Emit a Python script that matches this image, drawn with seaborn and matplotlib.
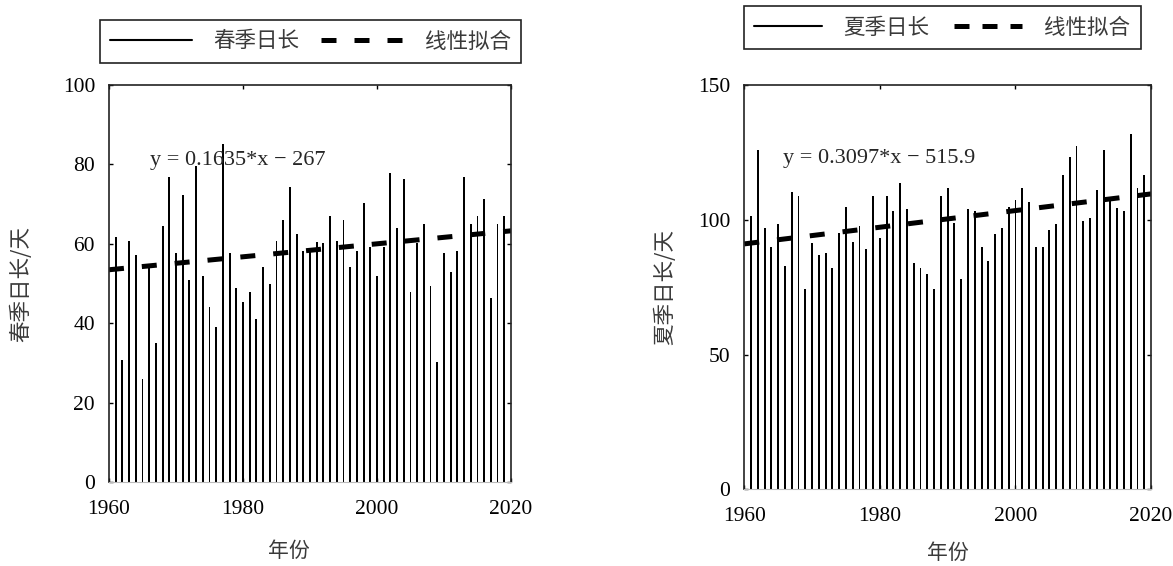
import numpy as np
import pandas as pd
import matplotlib
matplotlib.use("Agg")
import matplotlib.pyplot as plt
from matplotlib.lines import Line2D
import seaborn as sns

years = np.arange(1961, 2020)

spring_days = [61.8, 30.7, 60.8, 57.2, 25.9, 54.2, 34.9, 64.5, 76.9, 57.6,
               72.2, 51.0, 79.6, 52.0, 44.2, 39.1, 85.1, 57.6, 48.9, 45.3,
               47.9, 41.1, 54.1, 49.9, 60.7, 66.0, 74.4, 62.5, 58.3, 58.9,
               60.5, 60.3, 67.0, 60.8, 66.0, 54.1, 58.3, 70.2, 59.3, 52.0,
               59.3, 77.9, 64.0, 76.4, 47.9, 60.3, 65.0, 49.4, 30.2, 57.8,
               53.0, 58.3, 76.9, 65.0, 67.0, 71.2, 46.3, 65.0, 67.0]

summer_days = [101.3, 126.0, 97.0, 90.1, 98.6, 83.0, 110.5, 109.0, 74.2, 91.3,
               87.0, 87.6, 82.0, 95.0, 105.0, 92.0, 97.8, 89.2, 109.0, 93.4,
               109.0, 103.4, 113.9, 104.1, 84.1, 82.0, 80.0, 74.2, 109.0, 111.8,
               99.0, 78.0, 104.0, 103.4, 90.1, 84.8, 94.8, 97.0, 105.0, 107.6,
               111.8, 106.8, 90.1, 90.1, 96.2, 98.6, 116.8, 123.3, 127.5, 99.7,
               100.6, 111.1, 126.0, 108.6, 104.4, 103.4, 131.9, 111.8, 116.8]

# fit coefficients as printed on the chart
spring_fit = (0.1635, -267.0)
summer_fit = (0.3097, -515.9)
fit_years = [1960, 2020]

x_ticks = [1960, 1980, 2000, 2020]
spring_yticks = [0, 20, 40, 60, 80, 100]
summer_yticks = [0, 50, 100, 150]

sns.set_style("ticks")
plt.rcParams["font.family"] = ["Liberation Serif", "Noto Sans CJK SC"]
plt.rcParams["font.size"] = 16

CJK = ["Noto Sans CJK SC", "DejaVu Sans"]
TXT_GRAY = "#3a3a3a"
DASH = (0, (3.0, 3.6))


def draw_panel(fig, rect, vals, fit, yticks, ylim, season, eq_text, eq_xy,
               xlabel_xy, ylabel_pad, leg_center, leg_dash, leg_opts):
    ax = fig.add_axes(rect)
    df = pd.DataFrame({"year": years, "days": vals})
    sns.barplot(data=df, x="year", y="days", native_scale=True, width=0.28,
                color="black", linewidth=0, errorbar=None, ax=ax)

    fx = np.array(fit_years, dtype=float)
    fy = fit[0] * fx + fit[1]
    sns.lineplot(x=fx, y=fy, color="black", linewidth=3.6, linestyle=DASH, ax=ax)

    ax.set_xlim(1960, 2020)
    ax.set_ylim(*ylim)
    ax.set_xticks(x_ticks)
    ax.set_yticks(yticks)
    ax.tick_params(direction="in", length=3, width=1, top=True, right=True,
                   labelsize=15.5, colors="black")
    ax.tick_params(axis="x", pad=13)
    ax.tick_params(axis="y", pad=10)
    for side in ["left", "right", "top"]:
        ax.spines[side].set_color("#222222")
        ax.spines[side].set_linewidth(1.2)
        ax.spines[side].set_visible(True)
    ax.spines["bottom"].set_color("#bbbbbb")
    ax.spines["bottom"].set_linewidth(0.8)

    ax.set_xlabel("年份", family=CJK, fontsize=15, color=TXT_GRAY)
    ax.xaxis.set_label_coords(*xlabel_xy)
    ax.set_ylabel(season + "日长/天", family=CJK, fontsize=15.5, color=TXT_GRAY,
                  labelpad=ylabel_pad)
    ax.text(eq_xy[0], eq_xy[1], eq_text, fontsize=16, ha="left", va="center")

    handles = [Line2D([], [], color="black", linewidth=1.5),
               Line2D([], [], color="black", linewidth=3.6, linestyle=leg_dash)]
    leg = ax.legend(handles, [season + "日长", "线性拟合"], ncol=2,
                    loc="center", bbox_to_anchor=leg_center,
                    bbox_transform=fig.transFigure, borderpad=0.5,
                    fancybox=False, framealpha=1, edgecolor="#222222",
                    prop={"family": CJK, "size": 15.5}, **leg_opts)
    leg.get_frame().set_linewidth(1.2)
    for t in leg.get_texts():
        t.set_color(TXT_GRAY)
    return ax


fig = plt.figure(figsize=(11.73, 5.66), dpi=100)

draw_panel(fig, [0.0929, 0.1484, 0.3427, 0.7014], spring_days, spring_fit,
           spring_yticks, (0, 100), "春季", "y = 0.1635*x \u2212 267", (1966.1, 81),
           (0.448, -0.146), 22, (0.2647, 0.9267), DASH,
           dict(handlelength=3.8, handletextpad=1.0, columnspacing=1.0))
draw_panel(fig, [0.6345, 0.1360, 0.3468, 0.7130], summer_days, summer_fit,
           summer_yticks, (0, 150), "夏季", "y = 0.3097*x \u2212 515.9", (1965.7, 123),
           (0.5, -0.131), 16, (0.8031, 0.9514), (0, (3.0, 2.6)),
           dict(handlelength=3.15, handletextpad=1.0, columnspacing=1.15))

fig.savefig("out.png", dpi=100)
